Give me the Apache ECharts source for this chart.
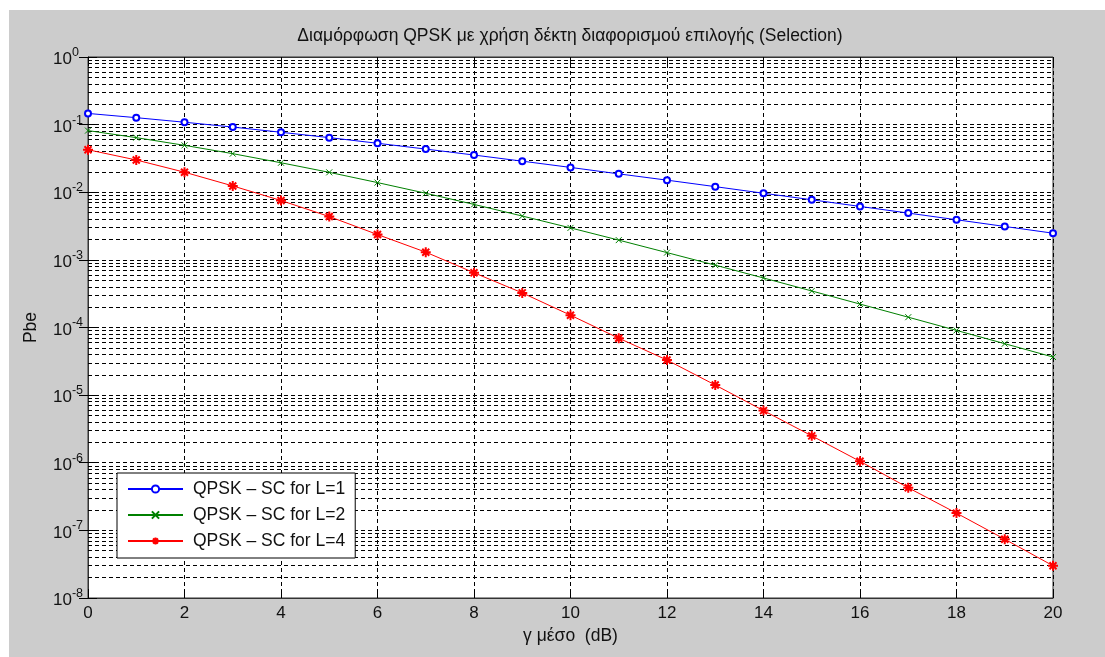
<!DOCTYPE html>
<html>
<head>
<meta charset="utf-8">
<title>QPSK Selection</title>
<script src="https://cdn.jsdelivr.net/npm/echarts@6/dist/echarts.min.js"></script>
<style>
  html, body { margin: 0; padding: 0; background: #ffffff; }
  #chart { position: absolute; left: 9px; top: 10px; width: 1096px; height: 647px; }
</style>
</head>
<body>
<div id="chart"></div>
<script>
// γ μέσο (dB)
var snrDb = [0, 1, 2, 3, 4, 5, 6, 7, 8, 9, 10, 11, 12, 13, 14, 15, 16, 17, 18, 19, 20];

// Pbe, QPSK - SC for L=1
var pbeL1 = [0.1464, 0.1267, 0.1085, 0.0920, 0.0771, 0.0642, 0.0530, 0.0435, 0.0355, 0.0288, 0.0233,
  0.0187, 0.0151, 0.0121, 0.00967, 0.00774, 0.00617, 0.00492, 0.00392, 0.00312, 0.00248];

// Pbe, QPSK - SC for L=2
var pbeL2 = [0.0816, 0.0642, 0.0494, 0.0372, 0.0273, 0.0197, 0.0139, 0.00967, 0.00661, 0.00445, 0.00297,
  0.00196, 0.00128, 0.000835, 0.00054, 0.000347, 0.000222, 0.000142, 0.0000906, 0.0000576, 0.0000366];

// Pbe, QPSK - SC for L=4
var pbeL4 = [0.0425, 0.0300, 0.0198, 0.0124, 0.00755, 0.00437, 0.00237, 0.00130, 0.000645, 0.000325, 0.000152,
  0.0000695, 0.0000330, 0.0000141, 0.0000059, 0.0000025, 0.00000105, 0.000000427, 0.00000018, 0.000000074, 0.00000003];

var seriesNames = ['QPSK – SC for L=1', 'QPSK – SC for L=2', 'QPSK – SC for L=4'];

// minor grid of the log axis: 2..9 in every decade
var minorSteps = [2, 3, 4, 5, 6, 7, 8, 9];
var decades = [-8, -7, -6, -5, -4, -3, -2, -1];

var FONT = 'Liberation Sans, Arial, sans-serif';
var TXT = '#111111';
var DASH = [4, 3];

function pairs(ys) {
  var out = [];
  for (var i = 0; i < snrDb.length; i++) {
    out.push([snrDb[i], ys[i]]);
  }
  return out;
}

function minorLines() {
  var out = [];
  decades.forEach(function (e) {
    minorSteps.forEach(function (k) {
      out.push({ yAxis: k * Math.pow(10, e) });
    });
  });
  return out;
}

function powLabel(v) {
  var e = Math.round(Math.log(v) / Math.LN10);
  return '{b|10}{s|' + e + '}';
}

var chart = echarts.init(document.getElementById('chart'), null, { renderer: 'canvas' });

var option = {
  animation: false,
  backgroundColor: '#cccccc',
  title: {
    text: 'Διαμόρφωση QPSK με χρήση δέκτη διαφορισμού επιλογής (Selection)',
    left: 561,
    top: 17,
    padding: 0,
    textAlign: 'center',
    textStyle: { fontFamily: FONT, fontSize: 17.5, fontWeight: 'normal', color: TXT }
  },
  legend: {
    orient: 'vertical',
    left: 108,
    top: 463,
    z: 10,
    padding: [7, 10, 8, 10],
    itemWidth: 55,
    itemHeight: 9,
    itemGap: 8,
    backgroundColor: '#ffffff',
    borderColor: '#000000',
    borderWidth: 1,
    borderRadius: 0,
    textStyle: { fontFamily: FONT, fontSize: 17.5, color: TXT, padding: [0, 0, 0, 5] },
    data: seriesNames
  },
  grid: {
    left: 79,
    top: 47,
    width: 965,
    height: 541,
    show: true,
    backgroundColor: '#ffffff',
    borderColor: '#333333',
    borderWidth: 1
  },
  xAxis: [{
    type: 'value',
    min: 0,
    max: 20,
    interval: 2,
    name: 'γ μέσο  (dB)',
    nameLocation: 'middle',
    nameGap: 29,
    nameTextStyle: { fontFamily: FONT, fontSize: 17.5, color: TXT },
    axisLine: { show: true, lineStyle: { color: '#333333', width: 1 } },
    axisTick: { show: true, inside: true, length: 9, lineStyle: { color: '#000000' } },
    axisLabel: { fontFamily: FONT, fontSize: 17, color: TXT, margin: 7 },
    splitLine: { show: true, lineStyle: { color: '#000000', type: DASH, width: 1 } }
  }, {
    type: 'value',
    position: 'top',
    min: 0,
    max: 20,
    interval: 2,
    axisLine: { show: true, lineStyle: { color: '#333333', width: 1 } },
    axisTick: { show: true, inside: true, length: 9, lineStyle: { color: '#000000' } },
    axisLabel: { show: false },
    splitLine: { show: false }
  }],
  yAxis: [{
    type: 'log',
    logBase: 10,
    min: 1e-8,
    max: 1,
    splitNumber: 8,
    name: 'Pbe',
    nameLocation: 'middle',
    nameGap: 48,
    nameTextStyle: { fontFamily: FONT, fontSize: 17.5, color: TXT },
    axisLine: { show: true, lineStyle: { color: '#333333', width: 1 } },
    axisTick: { show: true, inside: true, length: 9, lineStyle: { color: '#000000' } },
    axisLabel: {
      margin: 35,
      align: 'left',
      formatter: powLabel,
      rich: {
        b: { fontFamily: FONT, fontSize: 17, color: TXT, padding: [5, 0, 0, 0] },
        s: { fontFamily: FONT, fontSize: 12.5, color: TXT, verticalAlign: 'top' }
      }
    },
    splitLine: { show: true, lineStyle: { color: '#000000', type: DASH, width: 1 } }
  }, {
    type: 'log',
    logBase: 10,
    min: 1e-8,
    max: 1,
    splitNumber: 8,
    position: 'right',
    axisLine: { show: true, lineStyle: { color: '#333333', width: 1 } },
    axisTick: { show: true, inside: true, length: 9, lineStyle: { color: '#000000' } },
    axisLabel: { show: false },
    splitLine: { show: false }
  }],
  series: [
    {
      name: seriesNames[0],
      type: 'line',
      data: pairs(pbeL1),
      symbol: 'emptyCircle',
      symbolSize: 6,
      color: '#0000ff',
      lineStyle: { color: '#0000ff', width: 1 },
      itemStyle: { color: '#0000ff', borderColor: '#0000ff', borderWidth: 1 },
      z: 3,
      markLine: {
        silent: true,
        precision: 12,
        z: 1,
        symbol: 'none',
        label: { show: false },
        lineStyle: { color: '#000000', type: DASH, width: 1 },
        data: minorLines()
      }
    },
    {
      name: seriesNames[1],
      type: 'line',
      data: pairs(pbeL2),
      symbol: 'path://M0,0L10,10M10,0L0,10',
      symbolSize: 6,
      color: '#008000',
      lineStyle: { color: '#008000', width: 1 },
      itemStyle: { color: '#008000', borderColor: '#008000', borderWidth: 1 },
      z: 3
    },
    {
      name: seriesNames[2],
      type: 'line',
      data: pairs(pbeL4),
      symbol: 'path://M5,0L5,10M0,5L10,5M1.5,1.5L8.5,8.5M8.5,1.5L1.5,8.5',
      symbolSize: 10,
      color: '#ff0000',
      lineStyle: { color: '#ff0000', width: 1 },
      itemStyle: { color: '#ff0000', borderColor: '#ff0000', borderWidth: 2 },
      z: 3
    }
  ]
};

chart.setOption(option);
</script>
</body>
</html>
